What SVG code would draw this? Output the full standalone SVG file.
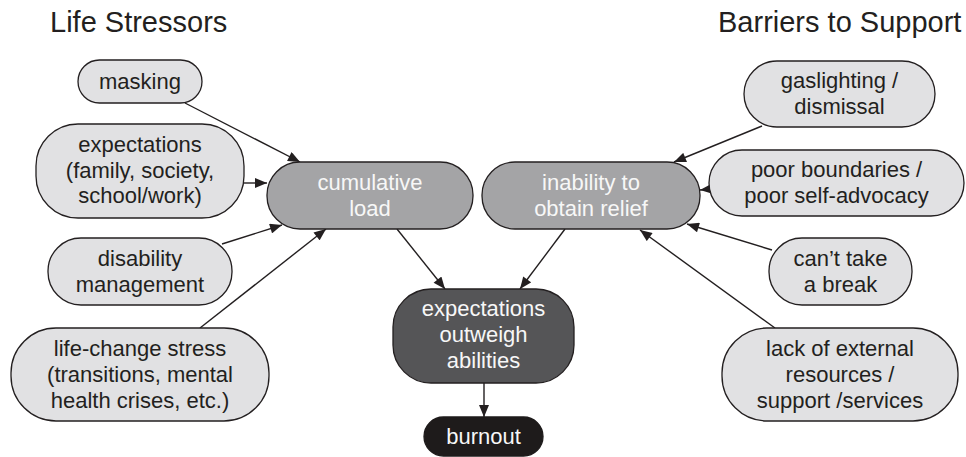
<svg xmlns="http://www.w3.org/2000/svg" width="966" height="457" viewBox="0 0 966 457">
<style>
  text { font-family: "Liberation Sans", Arial, Helvetica, sans-serif; }
  .title { font-size: 29px; fill: #231f20; }
  .lbl { font-size: 22px; text-anchor: middle; }
  .light rect { fill: #e1e1e3; stroke: #231f20; stroke-width: 1.3; }
  .light text { fill: #231f20; }
  .mid rect { fill: #a4a4a6; stroke: #231f20; stroke-width: 1.3; }
  .mid text { fill: #f7f7f7; }
  .dark rect { fill: #555557; stroke: #231f20; stroke-width: 1.3; }
  .dark text { fill: #f7f7f7; }
  .black rect { fill: #1e1b1b; stroke: #1e1b1b; stroke-width: 1.3; }
  .black text { fill: #f7f7f7; }
  .edge { stroke: #231f20; stroke-width: 1.4; fill: none; marker-end: url(#ah); }
</style>
<defs>
  <marker id="ah" viewBox="0 0 12 10" refX="12" refY="5" markerWidth="13" markerHeight="10" markerUnits="userSpaceOnUse" orient="auto">
    <path d="M0,0 L12,5 L0,10 Z" fill="#231f20"/>
  </marker>
</defs>
<rect width="966" height="457" fill="#ffffff"/>

<text class="title" x="50" y="32">Life Stressors</text>
<text class="title" x="718" y="32">Barriers to Support</text>

<g id="connectors">
  <line class="edge" x1="185" y1="103" x2="300" y2="162"/>
  <line class="edge" x1="244" y1="183" x2="267" y2="183"/>
  <line class="edge" x1="222" y1="244" x2="282" y2="225"/>
  <line class="edge" x1="200" y1="328" x2="326" y2="229"/>
  <line class="edge" x1="397" y1="229" x2="445" y2="289"/>
  <line class="edge" x1="565" y1="229" x2="520" y2="289"/>
  <line class="edge" x1="484" y1="383" x2="484" y2="417"/>
  <line class="edge" x1="762" y1="126" x2="674" y2="162"/>
  <line class="edge" x1="710" y1="189" x2="700" y2="190"/>
  <line class="edge" x1="772" y1="250" x2="687" y2="224"/>
  <line class="edge" x1="775" y1="328" x2="640" y2="230"/>
</g>

<g id="masking" class="light">
  <rect x="78" y="60" width="124" height="43" rx="21.5"/>
  <text class="lbl" x="140" y="89">masking</text>
</g>
<g id="expectations" class="light">
  <rect x="36" y="124" width="208" height="94" rx="42"/>
  <text class="lbl" x="140" y="152">expectations</text>
  <text class="lbl" x="140" y="177.5">(family, society,</text>
  <text class="lbl" x="140" y="203">school/work)</text>
</g>
<g id="disability" class="light">
  <rect x="48" y="238" width="184" height="67" rx="33"/>
  <text class="lbl" x="140" y="266">disability</text>
  <text class="lbl" x="140" y="292">management</text>
</g>
<g id="lifechange" class="light">
  <rect x="11" y="328" width="258" height="93" rx="45"/>
  <text class="lbl" x="140" y="356">life-change stress</text>
  <text class="lbl" x="140" y="382">(transitions, mental</text>
  <text class="lbl" x="140" y="408">health crises, etc.)</text>
</g>
<g id="cumulative" class="mid">
  <rect x="267" y="162" width="206" height="67" rx="33"/>
  <text class="lbl" x="370" y="190">cumulative</text>
  <text class="lbl" x="370" y="216">load</text>
</g>
<g id="inability" class="mid">
  <rect x="482" y="162" width="218" height="67" rx="33"/>
  <text class="lbl" x="591" y="190">inability to</text>
  <text class="lbl" x="591" y="216">obtain relief</text>
</g>
<g id="outweigh" class="dark">
  <rect x="393" y="289" width="181" height="94" rx="38"/>
  <text class="lbl" x="483.5" y="316">expectations</text>
  <text class="lbl" x="483.5" y="342">outweigh</text>
  <text class="lbl" x="483.5" y="368">abilities</text>
</g>
<g id="burnout" class="black">
  <rect x="424" y="417" width="119" height="39" rx="19.5"/>
  <text class="lbl" x="483.5" y="444">burnout</text>
</g>
<g id="gaslighting" class="light">
  <rect x="744" y="61" width="191" height="66" rx="33"/>
  <text class="lbl" x="839.5" y="88">gaslighting /</text>
  <text class="lbl" x="839.5" y="114">dismissal</text>
</g>
<g id="boundaries" class="light">
  <rect x="709" y="150" width="255" height="66" rx="33"/>
  <text class="lbl" x="836.5" y="177">poor boundaries /</text>
  <text class="lbl" x="836.5" y="203">poor self-advocacy</text>
</g>
<g id="cantbreak" class="light">
  <rect x="769" y="238" width="143" height="67" rx="33"/>
  <text class="lbl" x="840.5" y="266">can’t take</text>
  <text class="lbl" x="840.5" y="292">a break</text>
</g>
<g id="lack" class="light">
  <rect x="722" y="328" width="236" height="93" rx="45"/>
  <text class="lbl" x="840" y="356">lack of external</text>
  <text class="lbl" x="840" y="382">resources /</text>
  <text class="lbl" x="840" y="408">support /services</text>
</g>
</svg>
